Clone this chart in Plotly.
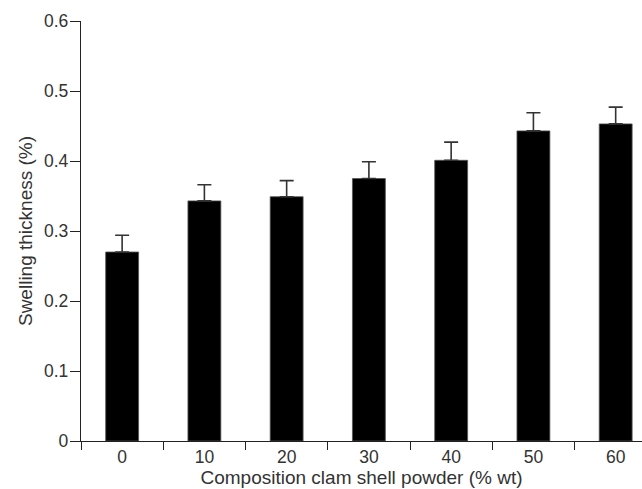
import plotly.graph_objects as go

categories = ["0", "10", "20", "30", "40", "50", "60"]
swelling = [0.270, 0.343, 0.349, 0.375, 0.401, 0.443, 0.453]
err_up = [0.024, 0.023, 0.023, 0.024, 0.026, 0.026, 0.024]
y_ticks = [0, 0.1, 0.2, 0.3, 0.4, 0.5, 0.6]
y_tick_labels = ["0", "0.1", "0.2", "0.3", "0.4", "0.5", "0.6"]

xpos = list(range(len(categories)))

fig = go.Figure(go.Bar(
    x=xpos, y=swelling, width=0.4,
    marker=dict(color="#000000", line=dict(color="#555555", width=0.8)),
    error_y=dict(type="data", symmetric=False, array=err_up,
                 arrayminus=[0] * len(err_up), color="#333333",
                 thickness=1.6, width=7),
))

FAM = "Liberation Sans, Arial, Helvetica, sans-serif"
tick_font = dict(family=FAM, size=17.5, color="#333333")
title_font = dict(family=FAM, size=19, color="#333333")

fig.update_layout(
    width=642, height=489,
    margin=dict(l=81, r=0, t=21, b=48, pad=0, autoexpand=False),
    paper_bgcolor="white", plot_bgcolor="white",
    font=tick_font, showlegend=False,
    xaxis=dict(
        range=[-0.5, 6.32], tickvals=xpos, ticktext=categories,
        ticks="", showgrid=False, zeroline=False,
        showline=True, linecolor="#222222", linewidth=1.3,
        tickfont=tick_font, ticklabelstandoff=0, automargin=False,
        minor=dict(tick0=-0.5, dtick=1, ticks="outside", ticklen=8,
                   tickwidth=1.3, tickcolor="#222222", showgrid=False),
        title=dict(text="Composition clam shell powder (% wt)", font=title_font, standoff=3),
    ),
    yaxis=dict(
        range=[0, 0.6], tickvals=y_ticks, ticktext=y_tick_labels,
        ticks="outside", ticklen=10, tickwidth=1.3, tickcolor="#222222",
        showgrid=False, zeroline=False, automargin=False,
        showline=True, linecolor="#222222", linewidth=1.3,
        tickfont=tick_font, ticklabelstandoff=-2,
        title=dict(text="Swelling thickness (%)", font=title_font, standoff=6),
    ),
)

fig.write_html("out.html", config={"displayModeBar": False},
               post_script="document.body.style.margin='0';")
